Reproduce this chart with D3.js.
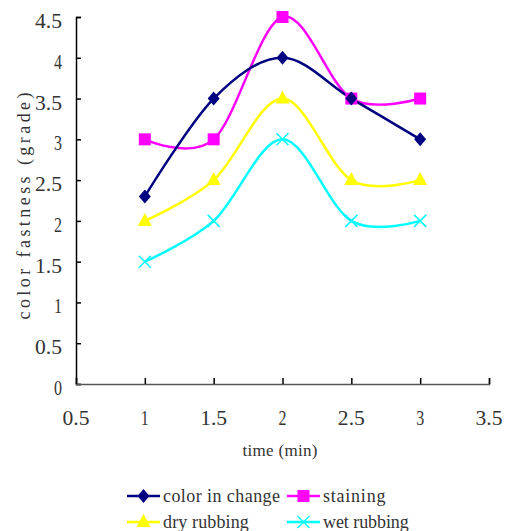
<!DOCTYPE html>
<html>
<head>
<meta charset="utf-8">
<script src="https://cdn.jsdelivr.net/npm/d3@7"></script>
<style>
  body { margin: 0; background: #fff; }
  text { font-family: "Liberation Serif", "DejaVu Serif", serif; fill: #333; }
</style>
</head>
<body>
<div id="chart"><svg></svg></div>
<script>
// chart data
const times = [1, 1.5, 2, 2.5, 3];
const colorChange = [2.3, 3.5, 4, 3.5, 3];
const staining = [3, 3, 4.5, 3.5, 3.5];
const dryRubbing = [2, 2.5, 3.5, 2.5, 2.5];
const wetRubbing = [1.5, 2, 3, 2, 2];
const xTicks = [0.5, 1, 1.5, 2, 2.5, 3, 3.5];
const yTicks = [0, 0.5, 1, 1.5, 2, 2.5, 3, 3.5, 4, 4.5];
const seriesNames = ["color in change", "staining", "dry rubbing", "wet rubbing"];

const W = 505, H = 531;
const svg = d3.select("#chart svg").attr("width", W).attr("height", H);

const x = d3.scaleLinear().domain([0.5, 3.5]).range([76, 489]);
const y = d3.scaleLinear().domain([0, 4.5]).range([384, 17]);

const series = [
  { name: seriesNames[0], values: colorChange, color: "#000080", marker: "diamond" },
  { name: seriesNames[1], values: staining, color: "#ff00ff", marker: "square" },
  { name: seriesNames[2], values: dryRubbing, color: "#ffff00", marker: "triangle" },
  { name: seriesNames[3], values: wetRubbing, color: "#00ffff", marker: "cross" }
];

// axes
const yAxis = svg.append("g").attr("transform", `translate(${x(0.5)},0)`)
  .call(d3.axisRight(y).tickValues(yTicks).tickSize(5).tickFormat(""));
yAxis.select(".domain").attr("stroke", "#000").attr("stroke-width", 1.5);
yAxis.selectAll(".tick line").attr("stroke", "#000").attr("stroke-width", 1.5);

const xAxis = svg.append("g").attr("transform", `translate(0,${y(0)})`)
  .call(d3.axisTop(x).tickValues(xTicks).tickSize(6).tickFormat(""));
xAxis.select(".domain").attr("stroke", "#555").attr("stroke-width", 1.5);
xAxis.selectAll(".tick line").attr("stroke", "#000").attr("stroke-width", 1.5);

// tick labels (narrow, tall serif digits)
const labelWidth = d => String(d).length === 1 ? 8 : 27;
svg.append("g").selectAll("text").data(yTicks).join("text")
  .attr("x", 62).attr("y", d => y(d) + 11)
  .attr("text-anchor", "end")
  .attr("font-size", 22)
  .attr("textLength", labelWidth)
  .attr("lengthAdjust", "spacingAndGlyphs")
  .text(d => String(d));

svg.append("g").selectAll("text").data(xTicks).join("text")
  .attr("x", d => x(d)).attr("y", 425)
  .attr("text-anchor", "middle")
  .attr("font-size", 22)
  .attr("textLength", labelWidth)
  .attr("lengthAdjust", "spacingAndGlyphs")
  .text(d => String(d));

// axis titles (letter-spaced)
svg.append("text")
  .attr("transform", "translate(30,206) rotate(-90)")
  .attr("text-anchor", "middle")
  .attr("font-size", 18)
  .attr("fill", "#666")
  .attr("textLength", 227).attr("lengthAdjust", "spacing")
  .text("color fastness (grade)");

svg.append("text")
  .attr("x", 280).attr("y", 456)
  .attr("text-anchor", "middle")
  .attr("font-size", 17)
  .attr("textLength", 75).attr("lengthAdjust", "spacing")
  .text("time (min)");

// lines
const line = d3.line()
  .x((d, i) => x(times[i]))
  .y(d => y(d))
  .curve(d3.curveCatmullRom.alpha(0));

function drawMarker(g, type, color, cx, cy) {
  if (type === "diamond") {
    g.append("path").attr("d", `M${cx},${cy - 7}L${cx + 6},${cy}L${cx},${cy + 7}L${cx - 6},${cy}Z`).attr("fill", color);
  } else if (type === "square") {
    g.append("rect").attr("x", cx - 6).attr("y", cy - 6).attr("width", 12).attr("height", 12).attr("fill", color);
  } else if (type === "triangle") {
    g.append("path").attr("d", `M${cx},${cy - 8}L${cx + 7},${cy + 5}L${cx - 7},${cy + 5}Z`).attr("fill", color);
  } else {
    g.append("path").attr("d", `M${cx - 6},${cy - 6}L${cx + 6},${cy + 6}M${cx + 6},${cy - 6}L${cx - 6},${cy + 6}`)
      .attr("stroke", color).attr("stroke-width", 1.5).attr("fill", "none");
  }
}

const plot = svg.append("g");
series.slice().reverse().forEach(s => {
  plot.append("path").datum(s.values)
    .attr("d", line)
    .attr("fill", "none")
    .attr("stroke", s.color)
    .attr("stroke-width", 2.5);
});
series.slice().reverse().forEach(s => {
  const g = plot.append("g");
  s.values.forEach((v, i) => drawMarker(g, s.marker, s.color, x(times[i]), y(v)));
});

// legend
const legendPos = [[127, 496], [287, 496], [127, 522], [287, 522]];
series.forEach((s, i) => {
  const [lx, ly] = legendPos[i];
  const g = svg.append("g");
  g.append("line").attr("x1", lx).attr("x2", lx + 33).attr("y1", ly).attr("y2", ly)
    .attr("stroke", s.color).attr("stroke-width", 2.5);
  drawMarker(g, s.marker, s.color, lx + 16.5, ly);
  g.append("text").attr("x", lx + 36).attr("y", ly + 6)
    .attr("font-size", 18)
    .attr("textLength", s.name.length * 7.8).attr("lengthAdjust", "spacing")
    .text(s.name);
});
</script>
</body>
</html>
